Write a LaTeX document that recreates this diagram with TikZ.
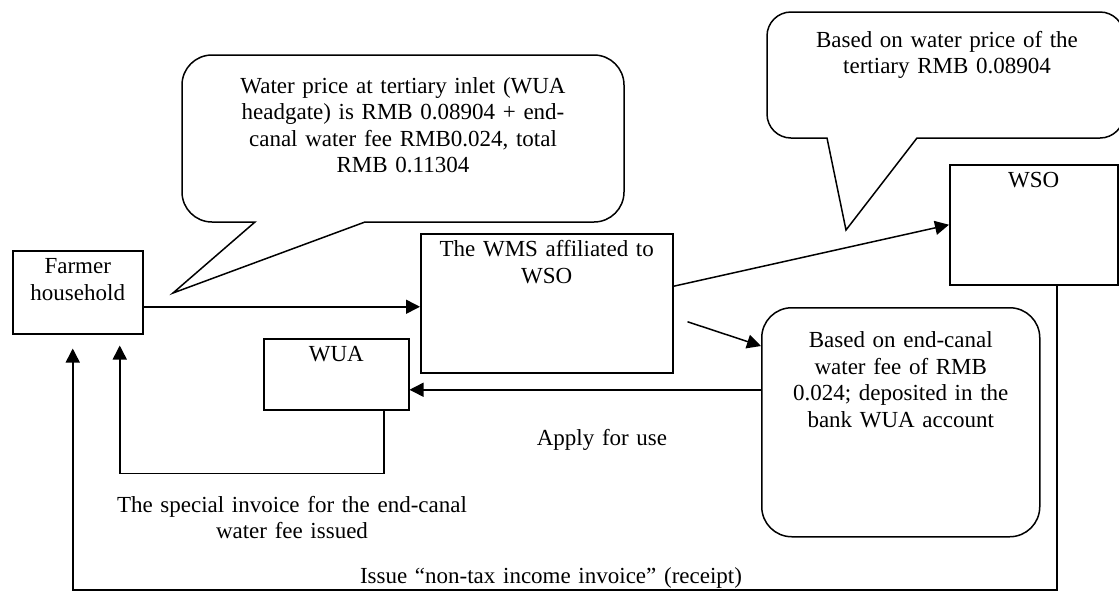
\documentclass[tikz,border=0pt]{standalone}
\usepackage{fontspec}
\setmainfont{Liberation Serif}
\usetikzlibrary{arrows.meta,positioning}

\begin{document}
\begin{tikzpicture}[x=0.5pt, y=-0.5pt, line width=0.75pt,
      box/.style={rectangle, draw=black, anchor=north west, align=center, inner xsep=0pt, inner ysep=3.5pt, text height=8pt, font=\fontsize{11.5}{13.3}\selectfont},
      txt/.style={anchor=base, align=center, inner sep=0pt, text width=220pt, font=\fontsize{11.5}{13.3}\selectfont},
      blase/.style={draw=black, line join=miter},
      arr/.style={-{Triangle[length=7pt,width=7pt]}}]

\useasboundingbox (0,0) rectangle (1119,590);

\draw[blase] (173,293) -- (255,222) [rounded corners=15pt] -- (182,222) -- (182,55) -- (624,55) -- (624,222) [sharp corners] -- (365,222) -- cycle;
\draw[blase] (846,230) -- (827,138) [rounded corners=12pt] -- (767,138) -- (767,12) -- (1124,12) -- (1124,138) [sharp corners] -- (917,138) -- cycle;

\node[txt] (t1) at (403,93) {Water price at tertiary inlet (WUA\\headgate) is RMB 0.08904 + end-\\canal water fee RMB0.024, total\\RMB 0.11304};
\node[txt] (t2) at (947,47) {Based on water price of the\\tertiary RMB 0.08904};

\node[box, text width=65pt, text depth=26.5pt] (farmer) at (12,250) {Farmer\\household};
\node[box, text width=126pt, text depth=54.5pt] (wms) at (420,233) {The WMS affiliated to\\WSO};
\node[box, text width=84pt, text depth=45pt] (wso) at (949,164) {WSO};
\node[box, text width=72.5pt, text depth=20.5pt] (wua) at (263,338) {WUA};
\node[box, rounded corners=15pt, inner ysep=12pt, text width=139pt, text depth=82.5pt] (acct) at (761,307) {Based on end-canal\\water fee of RMB\\0.024; deposited in the\\bank WUA account};

\node[txt] (t3) at (602,445) {Apply for use};
\node[txt] (t4) at (292,512) {The special invoice for the end-canal\\water fee issued};
\node[txt] (t5) at (551,583) {Issue ``non-tax income invoice'' (receipt)};

\coordinate (wuain) at ([yshift=-7.75pt]wua.east);
\draw[arr] ([yshift=-1.75pt]farmer.east |- wms.west) -- ([yshift=-1.75pt]wms.west);
\draw[arr] ([yshift=8.5pt]wms.east) -- (wso.west);
\draw[arr] ([xshift=7pt,yshift=-9.25pt]wms.east) -- ([yshift=-19.5pt]acct.north west);
\draw[arr] (acct.west |- wuain) -- (wuain);
\draw[arr] ([xshift=23.75pt]wua.south) -- ++(0,63) -| ([xshift=21pt,yshift=-5.5pt]farmer.south);
\draw[arr] ([xshift=11.5pt]wso.south) -- ++(0,304.5) -| ([xshift=-2.5pt,yshift=-7pt]farmer.south);

\end{tikzpicture}
\end{document}
